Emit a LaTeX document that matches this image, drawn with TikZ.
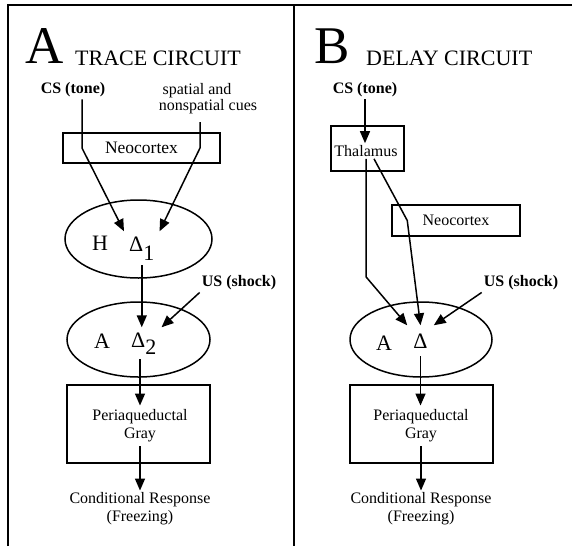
\documentclass[tikz,border=0pt]{standalone}
\usepackage{fontspec}
\setmainfont{Liberation Serif}
\usetikzlibrary{arrows.meta,shapes.geometric}

\begin{document}
\begin{tikzpicture}[x=1pt,y=-1pt,
    frame/.style={line width=1.8pt},
    lbl/.style={inner sep=2pt, font=\fontsize{16}{18}\selectfont, align=center},
    cue/.style={inner sep=2pt, font=\fontsize{16}{18}\selectfont\bfseries},
    region/.style={inner sep=1pt, font=\fontsize{22}{24}\selectfont},
    box/.style={draw, line width=1.5pt, rectangle, inner sep=0pt},
    oval/.style={draw, line width=1.5pt, ellipse, inner sep=0pt},
    arr/.style={line width=1.5pt, -{Triangle[length=12pt,width=10pt]}}]
  \useasboundingbox (0,0) rectangle (572,546);

  % Frame
  \draw[frame] (8,546) -- (8,5) -- (572,5);
  \draw[frame] (294,5) -- (294,546);

  % ---------------- A: trace circuit ----------------
  \node[anchor=base west, inner sep=0pt, font=\fontsize{53}{53}\selectfont] (bigA) at (25,63) {A};
  \node[anchor=base west, inner sep=0pt, font=\fontsize{22}{24}\selectfont] (titleA) at (75,65) {TRACE CIRCUIT};

  \node[cue] (csA) at (73,90) {CS (tone)};
  \node[lbl] (spA) at (197,91) {spatial and};
  \node[lbl] (nspA) at (208,107) {nonspatial cues};
  \coordinate (cueA) at (200,122);

  \node[box, minimum width=157pt, minimum height=30pt,
        font=\fontsize{17.5}{20}\selectfont] (neoA) at (141.5,148) {Neocortex};

  % Hippocampus
  \node[oval, minimum width=147pt, minimum height=78pt] (hipA) at (138.5,239) {};
  \node[region, anchor=base] (hA) at (100,250) {H};
  \node[region, anchor=base west, inner xsep=5pt, inner ysep=5pt] (d1) at (124,251)
    {Δ\raisebox{-9pt}{1}};

  % Amygdala
  \node[oval, minimum width=143pt, minimum height=75pt] (amyA) at (138.5,339.5) {};
  \node[region, anchor=base] (aA) at (102,348) {A};
  \node[region, anchor=base west, inner xsep=5pt, inner ysep=5pt] (d2) at (126,347)
    {Δ\raisebox{-7pt}{2}};
  \node[cue] (usA) at (239,283) {US (shock)};

  % Periaqueductal gray
  \node[box, minimum width=143pt, minimum height=78pt] (pagA) at (138.5,424) {};
  \node[lbl, inner sep=4pt] (pagtxtA) at (140,426) {Periaqueductal\\Gray};
  \node[lbl] (respA) at (140,509) {Conditional Response\\(Freezing)};

  % Connections A
  \draw[arr] ([xshift=9pt]csA.south) -- ([xshift=9pt]csA.south |- neoA.center) -- (d1.north west);
  \draw[arr] (cueA) -- (cueA |- neoA.center) -- (d1.north east);
  \draw[arr] (d1.south) -- (d1.south |- d2.north);
  \draw[arr] (usA.south west) -- (d2.north east);
  \draw[arr] (d2.south -| pagtxtA.north) -- (pagtxtA.north);
  \draw[arr] (pagtxtA.south) -- (respA.north);

  % ---------------- B: delay circuit ----------------
  \node[anchor=base west, inner sep=0pt, font=\fontsize{53}{53}\selectfont] (bigB) at (314,63) {B};
  \node[anchor=base west, inner sep=0pt, font=\fontsize{22}{24}\selectfont] (titleB) at (366,65) {DELAY CIRCUIT};

  \node[cue] (csB) at (365,90) {CS (tone)};

  % Thalamus
  \node[box, minimum width=73pt, minimum height=45pt] (thalboxB) at (367.5,148.5) {};
  \node[lbl] (thalB) at (366,151) {Thalamus};

  \node[box, minimum width=128pt, minimum height=31pt,
        font=\fontsize{16}{18}\selectfont] (neoB) at (456,220.5) {Neocortex};

  % Amygdala
  \node[oval, minimum width=142pt, minimum height=75pt] (amyB) at (421,339.5) {};
  \node[region, anchor=base] (aB) at (384,350) {A};
  \node[region, anchor=base, inner xsep=6pt, inner ysep=8pt] (dB) at (420.5,348) {Δ};
  \node[cue] (usB) at (521,283) {US (shock)};

  % Periaqueductal gray
  \node[box, minimum width=143pt, minimum height=78pt] (pagB) at (421.5,424) {};
  \node[lbl, inner sep=4pt] (pagtxtB) at (421,426) {Periaqueductal\\Gray};
  \node[lbl] (respB) at (421,509) {Conditional Response\\(Freezing)};

  % Connections B
  \draw[arr] (csB.south) -- (csB.south |- thalB.north);
  \draw[arr] (thalB.south) -- ++(0,118) -- (dB.north west);
  \draw[arr] ([xshift=8pt]thalB.south) -- ([xshift=16pt]neoB.west) -- (dB.north);
  \draw[arr] (usB.south west) -- (dB.north east);
  \draw[arr] (dB.south) -- (dB.south |- pagtxtB.north);
  \draw[arr] (pagtxtB.south) -- (respB.north);
\end{tikzpicture}
\end{document}
